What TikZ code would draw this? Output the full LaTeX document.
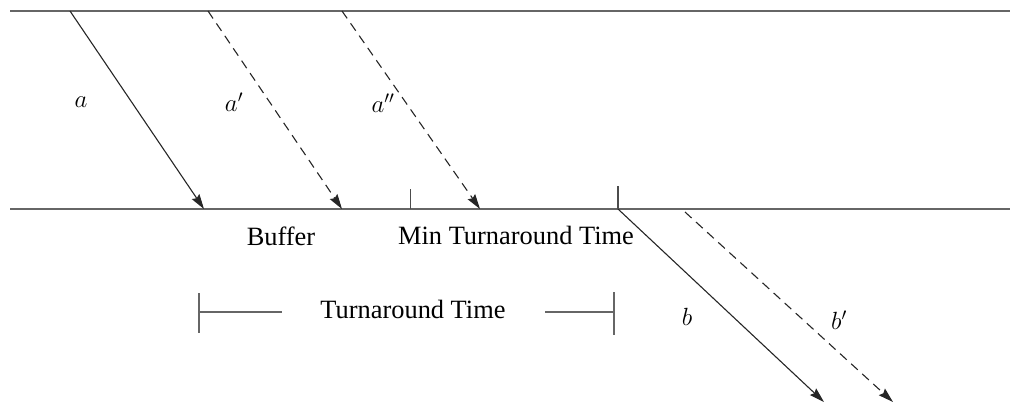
\documentclass[tikz,border=0pt]{standalone}
\usepackage{fontspec}
\setmainfont{Liberation Serif}
\usetikzlibrary{arrows.meta}
\begin{document}
\begin{tikzpicture}[x=1pt,y=-1pt,
  track/.style={draw=black!60, line width=1.4pt},
  tick/.style={draw=black!70, line width=1.1pt},
  msg/.style={draw=black!85, line width=1.1pt, -{Stealth[length=15pt,width=9pt,inset=2pt]}},
  msgdash/.style={msg, dash pattern=on 9pt off 6pt},
  lbl/.style={inner sep=0pt, font=\fontsize{26.4}{30}\selectfont},
  var/.style={inner sep=0pt, font=\fontsize{27}{30}\selectfont}]
\useasboundingbox (0,0) rectangle (1010,402);
% tracks
\coordinate (t0) at (10,11);
\coordinate (t1) at (1010,11);
\coordinate (m0) at (10,209);
\coordinate (m1) at (1010,209);
\draw[track] (t0) -- (t1);
\draw[track] (m0) -- (m1);
% message endpoints
\coordinate (as) at (70,11);   \coordinate (ae) at (204,209);
\coordinate (a1s) at (208,11); \coordinate (a1e) at (342,209);
\coordinate (a2s) at (342,11); \coordinate (a2e) at (480,209);
\coordinate (bs) at (618,209); \coordinate (be) at (824,402);
\coordinate (b1s) at (685,212); \coordinate (b1e) at (893,402);
\draw[msg] (as) -- (ae);
\draw[msgdash] (a1s) -- (a1e);
\draw[msgdash] (a2s) -- (a2e);
\draw[msg] (bs) -- (be);
\draw[msgdash] (b1s) -- (b1e);
% ticks
\coordinate (k1a) at (410.5,189); \coordinate (k1b) at (410.5,209);
\coordinate (k2a) at (618,186);   \coordinate (k2b) at (618,209);
\draw[tick] (k1a) -- (k1b);
\draw[tick] (k2a) -- (k2b);
% labels
\node[var] (la) at (81,102) {$a$};
\node[var] (la1) at (234,102) {$a'$};
\node[var] (la2) at (383,103) {$a''$};
\node[var] (lb) at (687,317) {$b$};
\node[var] (lb1) at (839,320) {$b'$};
\node[lbl] (buf) at (281,236) {Buffer};
\node[lbl] (mtt) at (516,235) {Min Turnaround Time};
\node[lbl] (tt) at (413,309) {Turnaround Time};
% bracket
\coordinate (bl0) at (199,293); \coordinate (bl1) at (199,333);
\coordinate (hl0) at (199,312); \coordinate (hl1) at (282,312);
\coordinate (br0) at (614,292); \coordinate (br1) at (614,335);
\coordinate (hr0) at (545,312); \coordinate (hr1) at (614,312);
\draw[track] (bl0) -- (bl1);
\draw[track] (hl0) -- (hl1);
\draw[track] (br0) -- (br1);
\draw[track] (hr0) -- (hr1);
\end{tikzpicture}
\end{document}
